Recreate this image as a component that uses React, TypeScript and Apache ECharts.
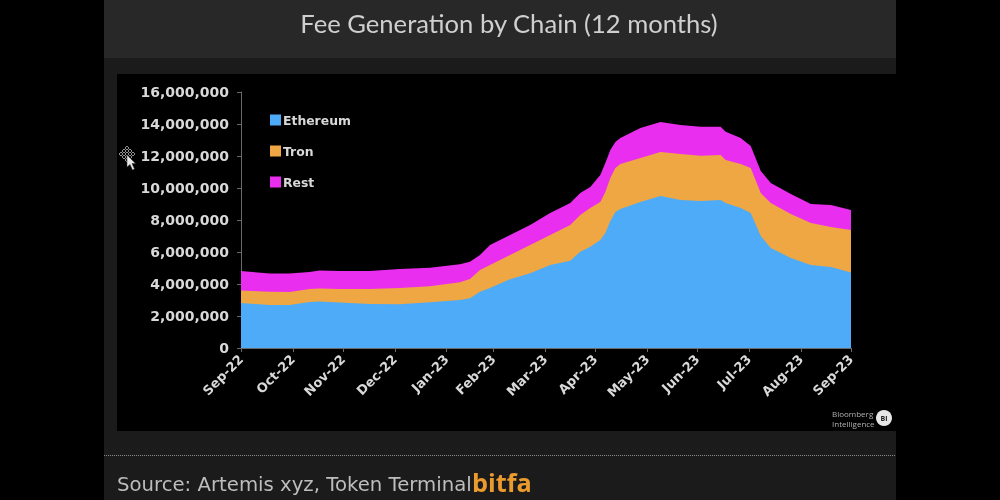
import React, { useEffect, useRef } from "react";
import * as echarts from "echarts";

const dates = ["2022-09-30","2022-10-17","2022-10-29","2022-11-10","2022-11-16","2022-11-28","2022-12-16","2023-01-03","2023-01-21","2023-02-08","2023-02-14","2023-02-20","2023-02-26","2023-03-04","2023-03-10","2023-03-22","2023-04-03","2023-04-15","2023-04-21","2023-04-27","2023-05-03","2023-05-06","2023-05-09","2023-05-12","2023-05-15","2023-05-27","2023-06-08","2023-06-20","2023-07-02","2023-07-14","2023-07-17","2023-07-26","2023-08-01","2023-08-07","2023-08-13","2023-08-25","2023-09-06","2023-09-18","2023-09-30"];
const ethereum = [2812,2688,2688,2875,2906,2844,2750,2731,2856,3000,3106,3519,3750,4031,4294,4669,5188,5456,6019,6331,6750,7188,7938,8500,8688,9125,9500,9250,9188,9250,9063,8750,8438,7000,6250,5625,5188,5063,4719];
const tron = [781,831,813,813,813,844,938,1019,1000,1106,1206,1356,1438,1469,1519,1769,1875,2231,2294,2419,2375,2563,2688,2750,2813,2750,2750,2875,2831,2813,2688,2750,2813,2688,2813,2750,2625,2500,2656];
const rest = [1219,1138,1156,1063,1125,1125,1125,1188,1163,1125,1081,938,1250,1250,1250,1250,1375,1375,1375,1313,1688,1813,1750,1625,1625,1875,1875,1813,1813,1769,1769,1625,1375,1375,1250,1250,1188,1375,1250];
const tickDates = ["2022-09-30","2022-10-31","2022-11-30","2022-12-31","2023-01-31","2023-02-28","2023-03-31","2023-04-30","2023-05-31","2023-06-30","2023-07-31","2023-08-31","2023-09-30"];
const tickLabels = ["Sep-22","Oct-22","Nov-22","Dec-22","Jan-23","Feb-23","Mar-23","Apr-23","May-23","Jun-23","Jul-23","Aug-23","Sep-23"];

const ts = (d: string) => Date.parse(d + "T00:00:00Z");
const tickTimes = tickDates.map(ts);
const stacked = (...layers: number[][]) =>
  dates.map((d, i) => [ts(d), layers.reduce((sum, l) => sum + l[i], 0) * 1000]);

const LABEL = "#d9d9d9";
const AXIS = "#6a6a6a";
const SANS = "'DejaVu Sans', sans-serif";

echarts.graphic.registerShape(
  "cursorArrow",
  echarts.graphic.extendPath(
    "M0 0 L0 12 L3 9.5 L5.5 15 L7.5 14 L5 8.5 L8.5 8.5 Z",
    {}
  )
);

export default function App() {
  const ref = useRef<HTMLDivElement>(null);
  useEffect(() => {
    document.body.style.margin = "0";
    document.body.style.background = "#000";
    const chart = echarts.init(ref.current!, undefined, { renderer: "svg" });
    const mk = (name: string, data: number[][], color: string, z: number) => ({
      name,
      type: "line",
      data,
      showSymbol: false,
      symbol: "none",
      lineStyle: { width: 0, color },
      itemStyle: { color },
      areaStyle: { color, opacity: 1 },
      z,
    });
    const diamonds = [[0,-6],[-3,-3],[3,-3],[-6,0],[0,0],[6,0],[-3,3],[3,3],[0,6]].map(([dx, dy]) => ({
      type: "polygon",
      x: 127 + dx,
      y: 154 + dy,
      shape: { points: [[0,-2],[2,0],[0,2],[-2,0]] },
      style: { fill: "none", stroke: "#b5b5b5", lineWidth: 0.8 },
      z: 5,
    }));
    chart.setOption({
      animation: false,
      backgroundColor: "#000",
      textStyle: { fontFamily: SANS },
      grid: { left: 241, right: 149, top: 92, bottom: 152, containLabel: false },
      legend: {
        left: 265,
        top: 109,
        orient: "vertical",
        itemWidth: 11,
        itemHeight: 11,
        itemGap: 19,
        icon: "rect",
        data: ["Ethereum", "Tron", "Rest"],
        textStyle: { color: LABEL, fontSize: 12.4, fontWeight: "bold", fontFamily: SANS, padding: [0, 0, 3, -3] },
      },
      xAxis: {
        type: "value",
        min: tickTimes[0],
        max: tickTimes[tickTimes.length - 1],
        axisLine: { show: true, onZero: false, lineStyle: { color: AXIS, width: 1 } },
        axisTick: { show: true, length: 4, lineStyle: { color: AXIS }, customValues: tickTimes },
        splitLine: { show: false },
        axisLabel: {
          customValues: tickTimes,
          rotate: 45,
          margin: 9,
          color: LABEL,
          fontSize: 13,
          fontWeight: "bold",
          fontFamily: SANS,
          hideOverlap: false,
          showMinLabel: true,
          showMaxLabel: true,
          formatter: (v: number) => tickLabels[tickTimes.indexOf(v)] ?? "",
        },
      },
      yAxis: {
        type: "value",
        min: 0,
        max: 16000000,
        interval: 2000000,
        axisLine: { show: true, onZero: false, lineStyle: { color: AXIS, width: 1 } },
        axisTick: { show: true, length: 4, lineStyle: { color: AXIS } },
        splitLine: { show: false },
        axisLabel: {
          margin: 12,
          color: LABEL,
          fontSize: 14,
          fontWeight: "bold",
          fontFamily: SANS,
          formatter: (v: number) => v.toLocaleString("en-US"),
        },
      },
      series: [
        mk("Rest", stacked(ethereum, tron, rest), "#ea2ef0", 2),
        mk("Tron", stacked(ethereum, tron), "#efa743", 3),
        mk("Ethereum", stacked(ethereum), "#4eabf8", 4),
      ],
      graphic: [
        { type: "rect", silent: true, z: -10, shape: { x: 104, y: 0, width: 792, height: 58 }, style: { fill: "#282828" } },
        { type: "rect", silent: true, z: -10, shape: { x: 104, y: 58, width: 792, height: 442 }, style: { fill: "#1b1b1b" } },
        { type: "rect", silent: true, z: -9, shape: { x: 117, y: 74, width: 779, height: 357 }, style: { fill: "#000" } },
        { type: "rect", silent: true, z: -9, shape: { x: 896, y: 0, width: 104, height: 500 }, style: { fill: "#000" } },
        { type: "line", silent: true, z: 1, shape: { x1: 104, y1: 455.5, x2: 896, y2: 455.5 }, style: { stroke: "#8a8a8a", lineWidth: 1, lineDash: [1, 1] } },
        { type: "text", silent: true, z: 5, x: 509, y: 23, style: { text: "Fee Generation by Chain (12 months)", fill: "#cfcfcf", font: "25.6px Lato, sans-serif", align: "center", verticalAlign: "middle" } },
        { type: "text", silent: true, z: 5, x: 117, y: 484, style: { text: "Source: Artemis xyz, Token Terminal", fill: "#bdbdbd", font: "19.7px 'DejaVu Sans', sans-serif", align: "left", verticalAlign: "middle" } },
        { type: "text", silent: true, z: 6, x: 472, y: 482, style: { text: "bitfa", fill: "#eb9a2e", font: "bold 25.3px 'Open Sans', sans-serif", align: "left", verticalAlign: "middle" } },
        { type: "text", silent: true, z: 5, x: 832, y: 413, style: { text: "Bloomberg", fill: "#b0b0b0", font: "8px 'Open Sans', sans-serif", align: "left", verticalAlign: "middle" } },
        { type: "text", silent: true, z: 5, x: 832, y: 423, style: { text: "Intelligence", fill: "#b0b0b0", font: "8px 'Open Sans', sans-serif", align: "left", verticalAlign: "middle" } },
        { type: "circle", silent: true, z: 5, shape: { cx: 884, cy: 418, r: 8 }, style: { fill: "#e6e6e6" } },
        { type: "text", silent: true, z: 6, x: 884, y: 418, style: { text: "BI", fill: "#222", font: "bold 7px 'Open Sans', sans-serif", align: "center", verticalAlign: "middle" } },
        ...diamonds,
        { type: "cursorArrow", silent: true, z: 6, x: 127, y: 155, style: { fill: "#e8e8e8", stroke: "#333", lineWidth: 0.5 } },
      ],
    });
    return () => chart.dispose();
  }, []);
  return <div ref={ref} style={{ width: 1000, height: 500, filter: "blur(0.5px)" }} />;
}
